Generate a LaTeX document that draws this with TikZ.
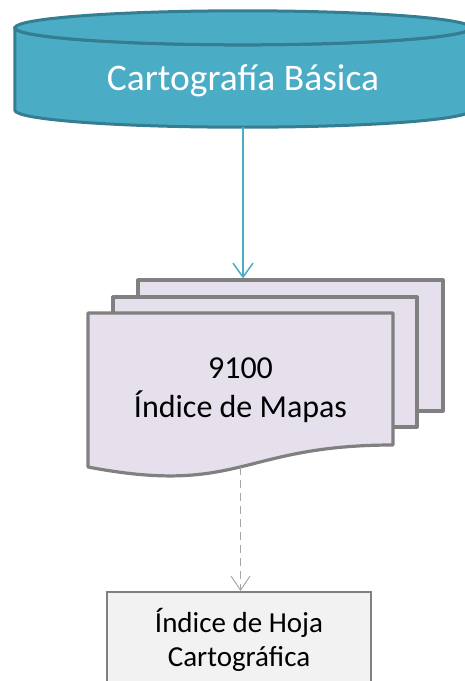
\documentclass[tikz,border=0pt]{standalone}
\usepackage{fontspec}
\setmainfont{Carlito}
\usetikzlibrary{arrows.meta, calc, positioning}
\definecolor{cylfill}{RGB}{75,172,198}
\definecolor{cylline}{RGB}{53,125,145}
\definecolor{docfill}{RGB}{229,224,236}
\definecolor{docline}{RGB}{128,128,128}
\definecolor{hojafill}{RGB}{242,242,242}
\definecolor{dashcol}{RGB}{166,166,166}

\begin{document}
\begin{tikzpicture}[x=1pt, y=-1pt,
  cylbody/.style={fill=cylfill, draw=cylline, line width=3pt},
  docsheet/.style={fill=docfill, draw=docline, line width=3.2pt, line join=round, inner sep=0pt},
  hojabox/.style={fill=hojafill, draw=docline, line width=2pt, minimum width=264pt, minimum height=96pt, align=center, font=\fontsize{29}{34}\selectfont},
  cylarrow/.style={cylfill, line width=1.5pt, -{Straight Barb[length=14pt, width=20pt]}},
  dasharrow/.style={dashcol, line width=1pt, dash pattern=on 8pt off 5pt, -{Straight Barb[length=14pt, width=19pt]}}]
  \useasboundingbox (0,0) rectangle (465,681);
  \clip (0,0) rectangle (465,681);
  % cylinder
  \node[minimum width=456pt, minimum height=116pt, inner sep=0pt] (cyl) at (243,69) {};
  \draw[cylbody] ($(cyl.north west)+(0,17)$) -- ($(cyl.south west)+(0,-17)$)
    arc[start angle=180, end angle=0, x radius=228, y radius=17]
    -- ($(cyl.north east)+(0,17)$)
    arc[start angle=0, end angle=180, x radius=228, y radius=17] -- cycle;
  \draw[cylbody] ($(cyl.north)+(0,17)$) ellipse [x radius=228, y radius=17];
  \node[white, font=\fontsize{37.5}{45}\selectfont] (cyltxt) at ($(cyl.center)+(0,12)$) {Cartografía Básica};
  % stack of sheets
  \node[docsheet, minimum width=305pt, minimum height=131pt] (idxback) at (290.5,345.5) {};
  \node[docsheet, minimum width=304pt, minimum height=130pt] (idxmid) at (265,362) {};
  \draw[docsheet] (88,313) -- (393,313) -- (393,445)
    .. controls (240.5,445) and (240.5,496) .. (88,467) -- cycle;
  \node[minimum width=305pt, minimum height=154pt, inner sep=0pt, align=center,
    font=\fontsize{32}{39}\selectfont] (idx) at (240.5,390) {9100\\Índice de Mapas};
  % lower box
  \node[hojabox] (hoja) at (239,640) {Índice de Hoja\\Cartográfica};
  % connectors
  \draw[cylarrow] (cyl.south) -- (cyl.south |- idxback.north);
  \draw[dasharrow] (idx.south) -- (idx.south |- hoja.north);
\end{tikzpicture}
\end{document}
